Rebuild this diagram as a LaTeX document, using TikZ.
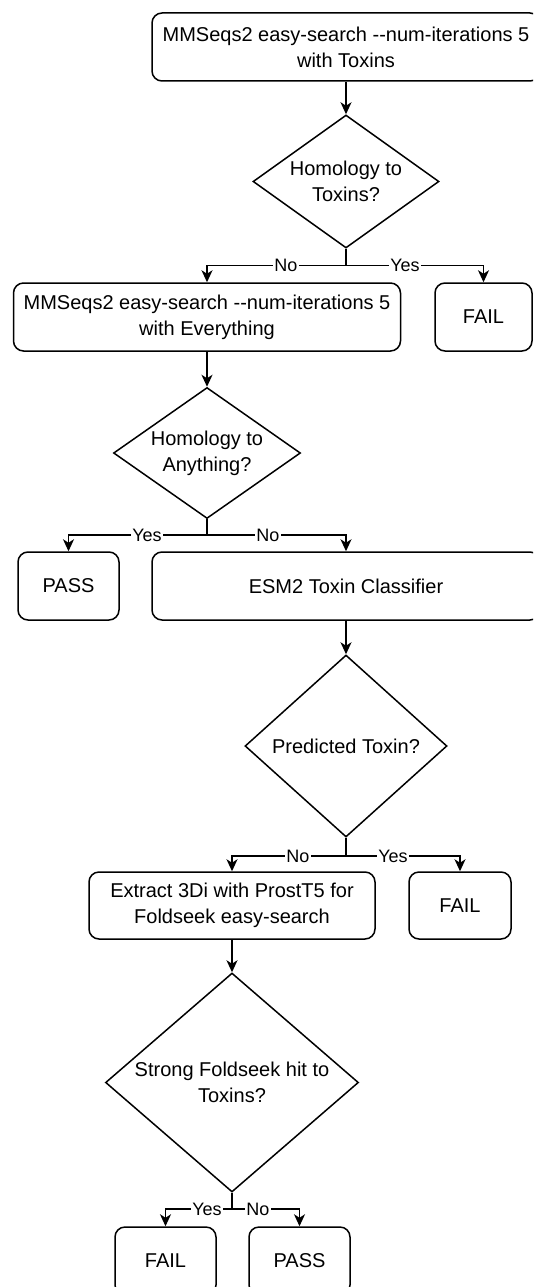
\documentclass[tikz,border=0pt]{standalone}
\usepackage{fontspec}
\setmainfont{Liberation Sans}
\usetikzlibrary{shapes.geometric,arrows.meta}
\begin{document}
\begin{tikzpicture}[x=1pt,y=-1pt,
  box/.style={draw, rounded corners=10pt, line width=1.5pt, inner sep=0pt, align=center,
    font=\fontsize{20}{26}\selectfont, minimum height=68pt},
  dia/.style={draw, diamond, line width=1.5pt, inner sep=0pt},
  dtext/.style={align=center, inner sep=0pt, font=\fontsize{20}{26}\selectfont},
  arr/.style={line width=1.5pt, -{Stealth[length=12pt,width=11pt,inset=3.5pt]}},
  lab/.style={fill=white, inner sep=1pt, font=\fontsize{18}{20}\selectfont}
]
\useasboundingbox (0,0) rectangle (533,1287);
\clip (0,0) rectangle (533,1287);

% nodes
\node[box, minimum width=388pt] (b1) at (346,47) {MMSeqs2 easy-search -{}-num-iterations 5\\with Toxins};
\node[dia, minimum width=186pt, minimum height=133pt,
  label={[dtext]center:{Homology to\\Toxins?}}] (d1) at (346,181.5) {};
\node[box, minimum width=387pt] (b2) at (207,317) {MMSeqs2 easy-search -{}-num-iterations 5\\with Everything};
\node[box, minimum width=97pt] (f1) at (483.5,317) {FAIL};
\node[dia, minimum width=187pt, minimum height=131pt,
  label={[dtext]center:{Homology to\\Anything?}}] (d2) at (207,453) {};
\node[box, minimum width=101pt] (p1) at (68.5,586) {PASS};
\node[box, minimum width=388pt] (b3) at (346,586) {ESM2 Toxin Classifier};
\node[dia, minimum width=202pt, minimum height=182pt,
  label={[dtext]center:{Predicted Toxin?}}] (d3) at (346,746) {};
\node[box, minimum width=286pt, minimum height=67pt] (b4) at (232,905.5) {Extract 3Di with ProstT5 for\\Foldseek easy-search};
\node[box, minimum width=102pt, minimum height=67pt] (f2) at (460,905.5) {FAIL};
\node[dia, minimum width=253pt, minimum height=219pt,
  label={[dtext]center:{Strong Foldseek hit to\\Toxins?}}] (d4) at (232,1082.5) {};
\node[box, minimum width=101pt] (f3) at (165.5,1261) {FAIL};
\node[box, minimum width=101pt] (p3) at (299.5,1261) {PASS};

% junctions
\coordinate (j1) at (346,265.5);
\coordinate (j2) at (207,535);
\coordinate (j3) at (346,856);
\coordinate (j4) at (232,1209);

% connectors
\draw[arr] (b1.south) -- (d1.north);
\draw[arr] (d1.south) -- (j1) -| (b2.north);
\draw[arr] (j1) -| (f1.north);
\draw[arr] (b2.south) -- (d2.north);
\draw[arr] (d2.south) -- (j2) -| (p1.north);
\draw[arr] (j2) -| (b3.north);
\draw[arr] (b3.south) -- (d3.north);
\draw[arr] (d3.south) -- (j3) -| (b4.north);
\draw[arr] (j3) -| (f2.north);
\draw[arr] (b4.south) -- (d4.north);
\draw[arr] (d4.south) -- (j4) -| (f3.north);
\draw[arr] (j4) -| (p3.north);

% labels
\node[lab] (l1) at (286,265.5) {No};
\node[lab] (l2) at (405,265.5) {Yes};
\node[lab] (l3) at (147,535) {Yes};
\node[lab] (l4) at (268,535) {No};
\node[lab] (l5) at (298,856) {No};
\node[lab] (l6) at (393,856) {Yes};
\node[lab] (l7) at (207,1209) {Yes};
\node[lab] (l8) at (258,1209) {No};
\end{tikzpicture}
\end{document}
